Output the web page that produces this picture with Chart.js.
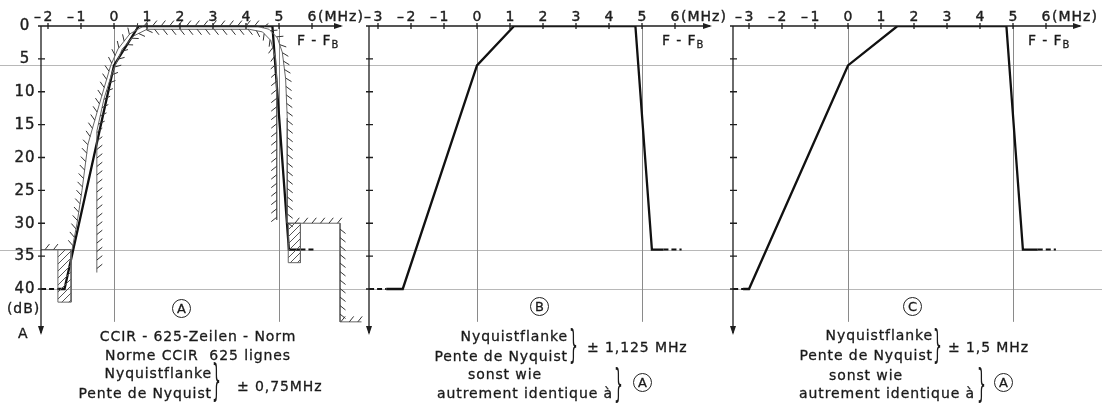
<!DOCTYPE html>
<html>
<head>
<meta charset="utf-8">
<script src="https://cdn.jsdelivr.net/npm/chart.js@4.4.1/dist/chart.umd.min.js"></script>
<style>
  html, body { margin: 0; padding: 0; background: #fff; }
  #page { position: relative; width: 1102px; height: 410px; overflow: hidden;
          font-family: 'DejaVu Sans', sans-serif; color: #1a1a1a; }
  canvas { position: absolute; left: 0; top: 0; }
  .t { position: absolute; white-space: pre; font-size: 14px; line-height: 16px; letter-spacing: 0.9px;
       -webkit-text-stroke: 0.3px #1a1a1a; }
  .c { transform: translateX(-50%); }
  .t sub { font-size: 10px; vertical-align: -3px; line-height: 0; }
  .circ { position: absolute; box-sizing: border-box; width: 19px; height: 19px; border: 1.2px solid #222;
          border-radius: 50%; font-size: 13px; line-height: 17px; text-align: center; -webkit-text-stroke: 0.3px #1a1a1a; }
  .brace { position: absolute; font-size: 14px; line-height: 14px; transform-origin: 0 0; }
</style>
</head>
<body>
<div id="page">
  <canvas id="chartA" width="1102" height="410"></canvas>
  <canvas id="chartB" width="1102" height="410"></canvas>
  <canvas id="chartC" width="1102" height="410"></canvas>

  <!-- axis captions -->
  <div class="t" style="left:297px;top:32px">F - F<sub>B</sub></div>
  <div class="t" style="left:662px;top:32px">F - F<sub>B</sub></div>
  <div class="t" style="left:1028px;top:32px">F - F<sub>B</sub></div>
  <div class="t" style="left:7px;top:300px">(dB)</div>
  <div class="t" style="left:18px;top:325px">A</div>

  <!-- panel A -->
  <div class="circ" style="left:172px;top:299px">A</div>
  <div class="t c" style="left:198px;top:328px">CCIR - 625-Zeilen - Norm</div>
  <div class="t c" style="left:198px;top:347px">Norme CCIR  625 lignes</div>
  <div class="t" style="right:890px;top:365px;text-align:right">Nyquistflanke</div>
  <div class="t" style="right:890px;top:385px;text-align:right">Pente de Nyquist</div>
  <div class="brace" style="left:212px;top:358px;transform:scaleY(3.06)">}</div>
  <div class="t" style="left:237px;top:378px">± 0,75MHz</div>

  <!-- panel B -->
  <div class="circ" style="left:530px;top:297px">B</div>
  <div class="t" style="right:534px;top:328px;text-align:right">Nyquistflanke</div>
  <div class="t" style="right:534px;top:348px;text-align:right">Pente de Nyquist</div>
  <div class="brace" style="left:569px;top:325px;transform:scaleY(2.74)">}</div>
  <div class="t" style="left:587px;top:339px">± 1,125 MHz</div>
  <div class="t c" style="left:505px;top:366px">sonst wie</div>
  <div class="t" style="right:489px;top:385px;text-align:right">autrement identique à</div>
  <div class="brace" style="left:614px;top:363px;transform:scaleY(2.82)">}</div>
  <div class="circ" style="left:633px;top:373px">A</div>

  <!-- panel C -->
  <div class="circ" style="left:903px;top:297px">C</div>
  <div class="t" style="right:169px;top:327px;text-align:right">Nyquistflanke</div>
  <div class="t" style="right:169px;top:347px;text-align:right">Pente de Nyquist</div>
  <div class="brace" style="left:933px;top:325px;transform:scaleY(2.74)">}</div>
  <div class="t" style="left:948px;top:339px">± 1,5 MHz</div>
  <div class="t c" style="left:866px;top:367px">sonst wie</div>
  <div class="t" style="right:127px;top:385px;text-align:right">autrement identique à</div>
  <div class="brace" style="left:977px;top:363px;transform:scaleY(2.82)">}</div>
  <div class="circ" style="left:994px;top:373px">A</div>
</div>

<script>
// axis ticks
const freqTicks = [-3, -2, -1, 0, 1, 2, 3, 4, 5, 6];     // MHz
const dbTicks = [0, 5, 10, 15, 20, 25, 30, 35, 40];      // dB
const refLevels = [6, 34, 40];                           // grey levels across all panels
const markFreqs = [0, 5];                                // grey verticals

// response curves (MHz / dB)
const respFA = [-1.7, -1.5, 0, 0.75, 4.8, 5.3, 5.65];
const respFB = [-2.75, -2.25, 0, 1.125, 4.8, 5.3, 5.65];
const respFC = [-3.18, -3.0, 0, 1.5, 4.8, 5.3, 5.75];
const respDb = [40, 40, 6, 0, 0, 34, 34];

// dashed continuations
const leadFA = [-2.21, -1.7];
const leadFB = [-3.27, -2.75];
const leadFC = [-3.48, -3.18];
const leadDb = [40, 40];
const tailFA = [5.65, 6.1];
const tailFB = [5.65, 6.2];
const tailFC = [5.75, 6.3];
const tailDb = [34, 34];

// tolerance mask of panel A
const outerF  = [-2.21, -1.7];
const outerDb = [34, 34];
const maskF   = [-1.27, -1.12, -0.97, -0.79, -0.45, -0.1, 0.12, 0.48, 0.9, 4.3, 4.7, 4.95, 5.1, 5.2, 5.25, 5.25, 6.85, 6.85, 7.5];
const maskDb  = [34, 30, 25, 18, 12, 6, 3.5, 1.2, 0, 0, 0.5, 1.8, 4, 8, 14, 30, 30, 45, 45];
const innerF  = [-0.52, -0.52, -0.3, -0.05, 0.25, 0.6, 1.0, 4.1, 4.5, 4.75, 4.9, 4.93, 4.93];
const innerDb = [37.5, 16, 11, 7, 3.5, 1.5, 0.5, 0.5, 0.9, 2.2, 5, 8, 29.5];
const boxLF  = [-1.7, -1.3, -1.3, -1.7, -1.7];
const boxLDb = [34, 34, 42, 42, 34];
const boxRF  = [5.28, 5.65, 5.65, 5.28, 5.28];
const boxRDb = [30, 30, 36, 36, 30];

const pts = (xs, ys) => xs.map((x, i) => ({ x, y: ys[i] }));

// page layout of the three panels (pixels)
const PX_MHZ = 33;
const Y_TOP = 26, Y_BOTTOM = 335, DB_MAX = 47;

function hatchPattern() {
  const n = 7;
  const c = document.createElement('canvas');
  c.width = n; c.height = n;
  const g = c.getContext('2d');
  g.strokeStyle = '#555';
  g.lineWidth = 1;
  g.beginPath();
  g.moveTo(0, n); g.lineTo(n, 0);
  g.moveTo(-1, 1); g.lineTo(1, -1);
  g.moveTo(n - 1, n + 1); g.lineTo(n + 1, n - 1);
  g.stroke();
  return g.createPattern(c, 'repeat');
}

const hatchPlugin = {
  id: 'hatch',
  afterDatasetsDraw(chart) {
    const ctx = chart.ctx;
    chart.data.datasets.forEach((ds, i) => {
      if (!ds.hatchSide) return;
      const p = chart.getDatasetMeta(i).data.map(e => ({ x: e.x, y: e.y }));
      ctx.save();
      ctx.strokeStyle = '#333';
      ctx.lineWidth = 1;
      ctx.beginPath();
      let carry = 4;
      for (let k = 0; k < p.length - 1; k++) {
        const a = p[k], b = p[k + 1];
        const dx = b.x - a.x, dy = b.y - a.y;
        const len = Math.hypot(dx, dy);
        if (!len) continue;
        const tx = dx / len, ty = dy / len;
        let hx = ds.hatchSide * ty + tx * 0.8, hy = -ds.hatchSide * tx + ty * 0.8;
        const hl = Math.hypot(hx, hy);
        hx /= hl; hy /= hl;
        let s = carry;
        while (s < len) {
          const px = a.x + tx * s, py = a.y + ty * s;
          ctx.moveTo(px, py);
          ctx.lineTo(px + hx * 7, py + hy * 7);
          s += 8.5;
        }
        carry = s - len;
      }
      ctx.stroke();
      ctx.restore();
    });
  }
};

function arrow(ctx, x, y, dir) {
  ctx.beginPath();
  if (dir === 'right') { ctx.moveTo(x, y); ctx.lineTo(x - 9, y - 3); ctx.lineTo(x - 9, y + 3); }
  else { ctx.moveTo(x, y); ctx.lineTo(x - 3, y - 9); ctx.lineTo(x + 3, y - 9); }
  ctx.closePath();
  ctx.fill();
}

function label(ctx, text, x, y) {
  ctx.strokeText(text, x, y);
  ctx.fillText(text, x, y);
}

const framePlugin = {
  id: 'frame',
  beforeDatasetsDraw(chart, args, opts) {
    const { ctx, scales: { x, y } } = chart;
    ctx.save();
    ctx.strokeStyle = '#b8b8b8';
    ctx.lineWidth = 1;
    refLevels.forEach(db => {
      const py = Math.round(y.getPixelForValue(db)) + 0.5;
      const from = db === 40 && opts.yLabels ? chart.chartArea.left - 4 : opts.spanL;
      ctx.beginPath(); ctx.moveTo(from, py); ctx.lineTo(opts.spanR, py); ctx.stroke();
    });
    ctx.strokeStyle = '#8a8a8a';
    markFreqs.forEach(f => {
      const px = Math.round(x.getPixelForValue(f)) + 0.5;
      ctx.beginPath(); ctx.moveTo(px, y.getPixelForValue(0)); ctx.lineTo(px, y.getPixelForValue(45)); ctx.stroke();
    });
    ctx.restore();
  },
  afterDatasetsDraw(chart, args, opts) {
    const { ctx, chartArea, scales: { x, y } } = chart;
    const ax = chartArea.left, ay = y.getPixelForValue(0);
    ctx.save();
    ctx.strokeStyle = '#1e1e1e';
    ctx.fillStyle = '#1e1e1e';
    ctx.lineWidth = 1.3;
    ctx.beginPath();
    ctx.moveTo(ax, ay); ctx.lineTo(chartArea.right - 2, ay);
    ctx.moveTo(ax, ay); ctx.lineTo(ax, chartArea.bottom - 2);
    freqTicks.forEach(f => {
      if (f <= x.min || f >= x.max) return;
      const px = x.getPixelForValue(f);
      ctx.moveTo(px, ay - 3); ctx.lineTo(px, ay + 3);
    });
    dbTicks.forEach(d => {
      const py = y.getPixelForValue(d);
      ctx.moveTo(ax - 3, py); ctx.lineTo(ax + 4, py);
    });
    ctx.stroke();
    arrow(ctx, chartArea.right, ay, 'right');
    arrow(ctx, ax, chartArea.bottom, 'down');

    ctx.font = '14px "DejaVu Sans"';
    if ('letterSpacing' in ctx) ctx.letterSpacing = '1px';
    ctx.lineWidth = 0.4;
    ctx.textBaseline = 'middle';
    freqTicks.forEach(f => {
      if (f <= x.min || f >= x.max) return;
      const px = x.getPixelForValue(f);
      ctx.textAlign = 'center';
      label(ctx, String(Math.abs(f)), px + 0.5, ay - 9);
      if (f < 0) { ctx.textAlign = 'right'; label(ctx, '\u2013', px - 6, ay - 9); }
      if (f === 6) { ctx.textAlign = 'left'; label(ctx, '(MHz)', px + 6, ay - 9); }
    });
    if (opts.yLabels) {
      ctx.font = '15px "DejaVu Sans"';
      ctx.textAlign = 'center';
      dbTicks.forEach(d => label(ctx, String(d), ax - 16, y.getPixelForValue(d) + 0.5));
    }
    ctx.restore();
  }
};

function curveSets(respF, leadF, tailF) {
  const line = { showLine: true, pointRadius: 0, borderColor: '#111', fill: false };
  return [
    { ...line, data: pts(respF, respDb), borderWidth: 2.3 },
    { ...line, data: pts(leadF, leadDb), borderWidth: 2, borderDash: [5, 3] },
    { ...line, data: pts(tailF, tailDb), borderWidth: 2, borderDash: [5, 3] }
  ];
}

function maskSets() {
  const thin = { showLine: true, pointRadius: 0, borderColor: '#666', borderWidth: 1, fill: false, clip: false };
  const pat = hatchPattern();
  return [
    { ...thin, data: pts(boxLF, boxLDb), fill: 'shape', backgroundColor: pat },
    { ...thin, data: pts(boxRF, boxRDb), fill: 'shape', backgroundColor: pat },
    { ...thin, data: pts(outerF, outerDb), hatchSide: 1 },
    { ...thin, data: pts(maskF, maskDb), hatchSide: 1 },
    { ...thin, data: pts(innerF, innerDb), hatchSide: -1 }
  ];
}

function makeChart(id, panel, datasets) {
  const minF = (panel.axisPx - panel.zeroPx) / PX_MHZ;
  const maxF = (panel.arrowPx - panel.zeroPx) / PX_MHZ;
  return new Chart(document.getElementById(id), {
    type: 'scatter',
    data: { datasets },
    options: {
      responsive: false,
      animation: false,
      devicePixelRatio: 1,
      layout: { padding: { left: panel.axisPx, right: 1102 - panel.arrowPx, top: Y_TOP, bottom: 410 - Y_BOTTOM } },
      scales: {
        x: { type: 'linear', display: false, min: minF, max: maxF },
        y: { type: 'linear', display: false, reverse: true, min: 0, max: DB_MAX }
      },
      plugins: {
        legend: { display: false },
        tooltip: { enabled: false },
        frame: { spanL: panel.spanL, spanR: panel.spanR, yLabels: panel.yLabels }
      }
    },
    plugins: [framePlugin, hatchPlugin]
  });
}

makeChart('chartA', { axisPx: 41, zeroPx: 114, arrowPx: 343, spanL: 0, spanR: 360, yLabels: true },
  [...maskSets(), ...curveSets(respFA, leadFA, tailFA)]);
makeChart('chartB', { axisPx: 369, zeroPx: 477, arrowPx: 712, spanL: 360, spanR: 720, yLabels: false },
  curveSets(respFB, leadFB, tailFB));
makeChart('chartC', { axisPx: 733, zeroPx: 848, arrowPx: 1082, spanL: 720, spanR: 1102, yLabels: false },
  curveSets(respFC, leadFC, tailFC));
</script>
</body>
</html>
